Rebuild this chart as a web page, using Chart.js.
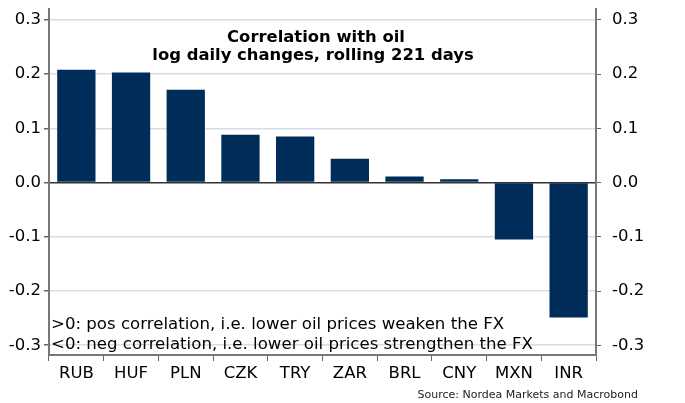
<!DOCTYPE html>
<html>
<head>
<meta charset="utf-8">
<script src="https://cdn.jsdelivr.net/npm/chart.js@4/dist/chart.umd.min.js"></script>
<style>
  html, body { margin: 0; padding: 0; background: #fff; }
  #wrap { width: 685px; height: 403px; }
</style>
</head>
<body>
<div id="wrap"><canvas id="c" width="685" height="403"></canvas></div>
<script>
var currencies = ['RUB', 'HUF', 'PLN', 'CZK', 'TRY', 'ZAR', 'BRL', 'CNY', 'MXN', 'INR'];
var correlation = [0.208, 0.203, 0.171, 0.088, 0.085, 0.044, 0.011, 0.006, -0.105, -0.249];
var yTicks = [-0.3, -0.2, -0.1, 0.0, 0.1, 0.2, 0.3];
var titleLines = ['Correlation with oil', 'log daily changes, rolling 221 days'];
var noteLines = [
  '>0: pos correlation, i.e. lower oil prices weaken the FX',
  '<0: neg correlation, i.e. lower oil prices strengthen the FX'
];
var sourceText = 'Source: Nordea Markets and Macrobond';

var FONT = '"DejaVu Sans", Verdana, sans-serif';

function setTicks(axis) {
  axis.ticks = yTicks.map(function(v) { return { value: v }; });
}

function fitY(width) {
  return function(axis) {
    axis.width = width;
    // no extra room for half a label above/below
    axis.paddingTop = 0;
    axis.paddingBottom = 0;
  };
}

// title, notes and source drawn over the plot
var textPlugin = {
  id: 'texts',
  afterDraw: function(chart) {
    var ctx = chart.ctx;
    ctx.save();
    ctx.fillStyle = '#000';
    ctx.textBaseline = 'alphabetic';
    ctx.textAlign = 'center';
    ctx.font = 'bold 16.4px ' + FONT;
    ctx.fillText(titleLines[0], 316, 42);
    ctx.fillText(titleLines[1], 313, 60);

    ctx.textAlign = 'left';
    ctx.font = '16.6px ' + FONT;
    ctx.fillText(noteLines[0], 51, 329);
    ctx.fillText(noteLines[1], 51, 349);

    ctx.textAlign = 'right';
    ctx.fillStyle = '#222';
    ctx.font = '11px ' + FONT;
    ctx.fillText(sourceText, 638, 398);
    ctx.restore();
  }
};

new Chart(document.getElementById('c').getContext('2d'), {
  type: 'bar',
  data: {
    labels: currencies,
    datasets: [{
      data: correlation,
      backgroundColor: '#002c5a',
      borderWidth: 0,
      barPercentage: 0.7,
      categoryPercentage: 1.0
    }]
  },
  options: {
    responsive: false,
    animation: false,
    devicePixelRatio: 1,
    layout: { padding: { top: 9, left: 0, right: 0, bottom: 0 } },
    plugins: { legend: { display: false }, tooltip: { enabled: false } },
    scales: {
      x: {
        grid: { display: true, drawOnChartArea: false, offset: true, tickLength: 6, tickColor: '#666', lineWidth: 1 },
        border: { color: '#777', width: 2 },
        ticks: { color: '#000', font: { family: FONT, size: 16.5 }, padding: 3, maxRotation: 0 },
        afterFit: function(axis) { axis.height = 48; }
      },
      y: {
        position: 'left',
        min: -0.318,
        max: 0.32,
        afterBuildTicks: setTicks,
        grid: {
          color: function(c) { return c.tick && c.tick.value === 0 ? '#333' : '#d3dfe8'; },
          lineWidth: 1.5,
          tickLength: 5,
          tickColor: '#666'
        },
        border: { color: '#777', width: 2 },
        ticks: {
          color: '#000', font: { family: FONT, size: 16.5 }, padding: 3,
          callback: function(v) { return v.toFixed(1); }
        },
        afterFit: fitY(49)
      },
      y2: {
        position: 'right',
        min: -0.318,
        max: 0.32,
        afterBuildTicks: setTicks,
        grid: { drawOnChartArea: false, color: '#666', tickLength: 5, tickColor: '#666' },
        border: { color: '#777', width: 2 },
        ticks: {
          color: '#000', font: { family: FONT, size: 16.5 }, padding: 11,
          callback: function(v) { return v.toFixed(1); }
        },
        afterFit: fitY(89)
      }
    }
  },
  plugins: [textPlugin]
});
</script>
</body>
</html>
